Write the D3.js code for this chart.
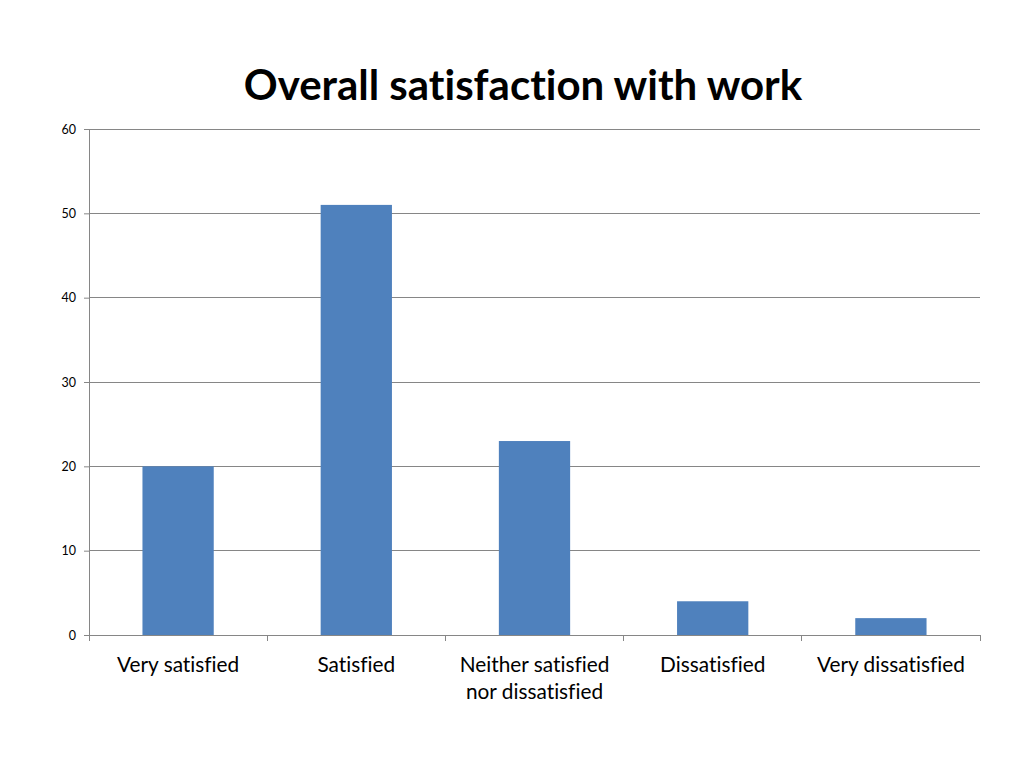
<!DOCTYPE html>
<html><head><meta charset="utf-8">
<script src="https://cdn.jsdelivr.net/npm/d3@7"></script>
<style>body{margin:0;background:#fff;} svg{display:block;} text{font-variant-ligatures:none;font-feature-settings:"liga" 0;}</style>
</head><body>
<script>
const categories = [["Very satisfied"], ["Satisfied"], ["Neither satisfied", "nor dissatisfied"], ["Dissatisfied"], ["Very dissatisfied"]];
const values = [20, 51, 23, 4, 2];
const yTicks = [0, 10, 20, 30, 40, 50, 60];
const title = "Overall satisfaction with work";

const W = 1024, H = 768;
const m = {left: 89, right: 44, top: 129, bottom: 133};
const font = "Lato, 'Open Sans', sans-serif";
const svg = d3.select("body").append("svg").attr("width", W).attr("height", H);

const x = d3.scaleBand().domain(d3.range(categories.length)).range([m.left, W - m.right]).paddingInner(0.6).paddingOuter(0.3);
const xb = d3.scaleBand().domain(d3.range(categories.length)).range([m.left, W - m.right]);
const y = d3.scaleLinear().domain([0, 60]).range([H - m.bottom, m.top]);

svg.append("text").attr("x", 523).attr("y", 100).attr("text-anchor", "middle")
  .attr("font-family", font).attr("font-weight", "bold").attr("font-size", 42).attr("fill", "#000").text(title);

// gridlines
svg.append("g").selectAll("line").data(yTicks.filter(d => d > 0)).join("line")
  .attr("x1", m.left).attr("x2", W - m.right).attr("y1", d => y(d)).attr("y2", d => y(d))
  .attr("stroke", "#868686").attr("stroke-width", 1).attr("shape-rendering", "crispEdges");

// bars
svg.append("g").selectAll("rect").data(values).join("rect")
  .attr("x", (d, i) => x(i)).attr("width", x.bandwidth())
  .attr("y", d => y(d)).attr("height", d => y(0) - y(d)).attr("fill", "#4F81BD");

// y axis
const yAxis = svg.append("g").attr("transform", `translate(${m.left},0)`)
  .call(d3.axisLeft(y).tickValues(yTicks).tickSize(5).tickPadding(8));
yAxis.select(".domain").attr("stroke", "#868686");
yAxis.selectAll(".tick line").attr("stroke", "#868686");
yAxis.selectAll("text").attr("font-family", font).attr("font-size", 12.5).attr("fill", "#000");

// x axis
const xAxis = svg.append("g").attr("transform", `translate(0,${y(0)})`);
xAxis.append("line").attr("x1", m.left).attr("x2", W - m.right).attr("stroke", "#868686").attr("shape-rendering", "crispEdges");
const bounds = d3.range(categories.length + 1).map(i => i < categories.length ? xb(i) : xb(i - 1) + xb.bandwidth());
xAxis.selectAll("line.t").data(bounds).join("line").attr("class", "t")
  .attr("x1", d => d).attr("x2", d => d).attr("y1", 0).attr("y2", 6).attr("stroke", "#868686").attr("shape-rendering", "crispEdges");
const lbl = xAxis.selectAll("text").data(categories).join("text")
  .attr("text-anchor", "middle").attr("font-family", font).attr("font-size", 20.8).attr("fill", "#000")
  .attr("transform", (d, i) => `translate(${xb(i) + xb.bandwidth() / 2},37)`);
lbl.selectAll("tspan").data(d => d).join("tspan").attr("x", 0).attr("dy", (d, j) => j === 0 ? 0 : 27).text(d => d);
</script>
</body></html>
